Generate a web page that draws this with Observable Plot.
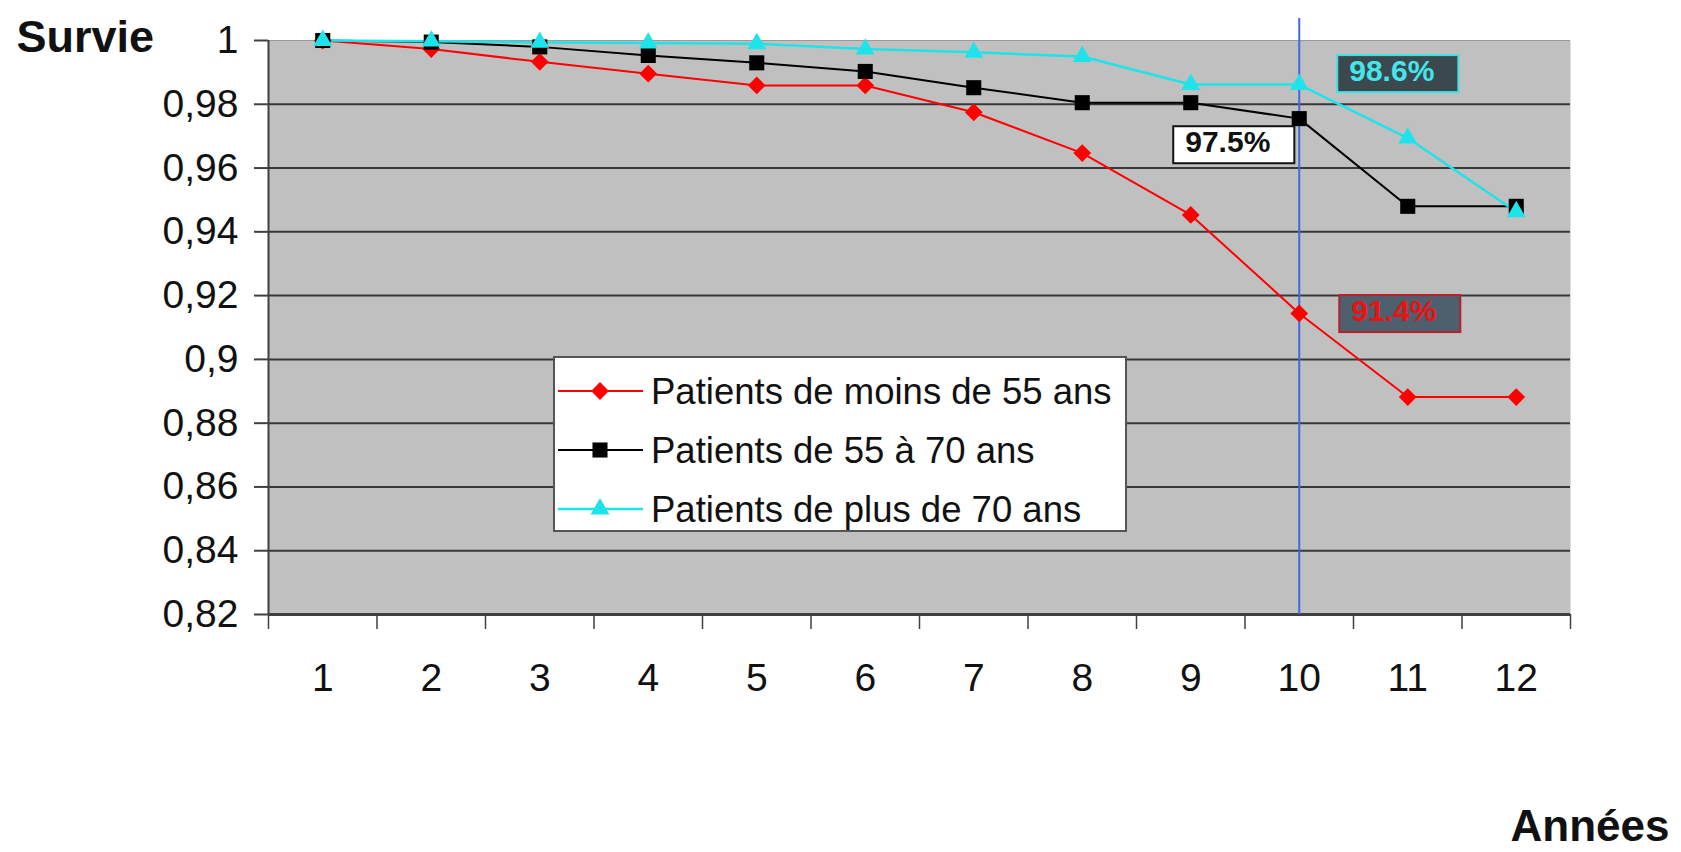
<!DOCTYPE html>
<html><head><meta charset="utf-8">
<script src="https://cdn.jsdelivr.net/npm/d3@7"></script>
<script src="https://cdn.jsdelivr.net/npm/@observablehq/plot@0.6"></script>
<style>html,body{margin:0;padding:0;background:#fff;} svg{display:block}</style>
</head><body><div id="chart"></div>
<script>
// ---- data ----
const years = [1, 2, 3, 4, 5, 6, 7, 8, 9, 10, 11, 12];
const seriesNames = ["Patients de moins de 55 ans", "Patients de 55 à 70 ans", "Patients de plus de 70 ans"];
const survieMoins55 = [1.000, 0.9973, 0.9933, 0.9896, 0.9859, 0.9859, 0.9775, 0.9647, 0.9453, 0.9144, 0.8882, 0.8882];
const survie55a70   = [1.000, 0.9995, 0.9980, 0.9953, 0.9930, 0.9903, 0.9852, 0.9805, 0.9805, 0.9755, 0.9480, 0.9480];
const survie70plus  = [1.000, 0.9998, 0.9994, 0.9992, 0.9990, 0.9973, 0.9963, 0.9950, 0.9862, 0.9862, 0.9694, 0.9463];
const yTicks = [0.82, 0.84, 0.86, 0.88, 0.9, 0.92, 0.94, 0.96, 0.98, 1];
const highlightYear = 10;
const annotationTexts = ["91.4%", "97.5%", "98.6%"];
const yTitle = "Survie";
const xTitle = "Années";

// ---- styles ----
const FONT = "'Liberation Sans', Arial, sans-serif";
const colors = ["#ff0000", "#000000", "#1fe3ea"];
const symbols = ["diamond2", "square", "triangle"];
const symbolR = [8, 8.5, 7];
const lineW = [2, 2, 2.5];

const allSeries = [survieMoins55, survie55a70, survie70plus];
const rows = allSeries.map((vals, si) => years.map((yr, i) => ({series: seriesNames[si], year: yr, value: vals[i]})));
const boundaries = years.map(y => y - 0.5).concat([years[years.length - 1] + 0.5]);
const fmt = d => String(d).replace(".", ",");
const at10 = allSeries.map((vals, si) => ({series: seriesNames[si], year: highlightYear, value: vals[years.indexOf(highlightYear)], label: annotationTexts[si]}));

const W = 1681, H = 852;
const plot = Plot.plot({
  width: W, height: H,
  marginLeft: 268, marginRight: 111, marginTop: 40, marginBottom: 238,
  style: {fontFamily: FONT, fontSize: "39px", background: "#fff", overflow: "visible"},
  x: {type: "linear", domain: [0.5, 12.5]},
  y: {domain: [0.82, 1]},
  marks: [
    Plot.frame({fill: "#c0c0c0", stroke: null}),
    Plot.gridY(yTicks.filter(t => t > 0.82 && t < 1), {stroke: "#383838", strokeOpacity: 1, strokeWidth: 2}),
    Plot.gridY([1], {stroke: "#9a9a9a", strokeOpacity: 1, strokeWidth: 1}),
    Plot.ruleY([0.82], {stroke: "#404040", strokeWidth: 3}),
    Plot.ruleX([0.5], {stroke: "#404040", strokeWidth: 2}),
    Plot.axisY({ticks: yTicks, tickFormat: fmt, tickSize: 14, tickPadding: 16, stroke: "#404040", strokeWidth: 2, fontSize: 39, fill: "#111", label: null}),
    Plot.axisX({ticks: boundaries, tickFormat: () => "", tickSize: 15, stroke: "#404040", strokeWidth: 1.5, label: null}),
    Plot.axisX({ticks: years, tickSize: 0, tickPadding: 49, fontSize: 39, fill: "#111", label: null}),
    Plot.ruleX([highlightYear], {stroke: "#4169e1", strokeWidth: 2, insetTop: -22}),
    ...rows.map((data, si) => Plot.line(data, {x: "year", y: "value", stroke: colors[si], strokeWidth: lineW[si]})),
    ...rows.map((data, si) => Plot.dot(data, {x: "year", y: "value", symbol: () => symbols[si], r: symbolR[si], fill: colors[si], stroke: null})),
    Plot.text([at10[1]], {x: "year", y: "value", text: "label", textAnchor: "start", dx: -114, dy: 24, fontSize: 30, fontWeight: "bold", fill: "#111", className: "ann-black"}),
    Plot.text([at10[2]], {x: "year", y: "value", text: "label", textAnchor: "start", dx: 50, dy: -13, fontSize: 30, fontWeight: "bold", fill: "#45e6ea", className: "ann-cyan"}),
    Plot.text([at10[0]], {x: "year", y: "value", text: "label", textAnchor: "start", dx: 52, dy: -2, fontSize: 30, fontWeight: "bold", fill: "#ee1111", className: "ann-red"}),
    Plot.text([yTitle], {frameAnchor: "top-left", text: d => d, textAnchor: "start", lineAnchor: "middle", dx: -252, dy: -3, fontSize: 45, fontWeight: "bold", fill: "#111"}),
    Plot.text([xTitle], {frameAnchor: "bottom-right", text: d => d, textAnchor: "end", lineAnchor: "middle", dx: 99, dy: 212, fontSize: 44, fontWeight: "bold", fill: "#111"})
  ]
});
document.getElementById("chart").appendChild(plot);

// boxes behind annotation labels
const svg = d3.select(plot);
const boxStyles = {"ann-black": ["#ffffff", "#111111"], "ann-cyan": ["#3b484e", "#3fe0e6"], "ann-red": ["#4e5f6e", "#b8202a"]};
for (const [cls, [fill, stroke]] of Object.entries(boxStyles)) {
  const g = plot.querySelector("g." + cls);
  const t = g.querySelector("text");
  const b = t.getBBox();
  const tr = t.getAttribute("transform");
  const rect = document.createElementNS("http://www.w3.org/2000/svg", "rect");
  rect.setAttribute("x", b.x - 12);
  rect.setAttribute("y", b.y + 1);
  rect.setAttribute("width", b.width + 36);
  rect.setAttribute("height", b.height + 4);
  rect.setAttribute("fill", fill);
  rect.setAttribute("stroke", stroke);
  rect.setAttribute("stroke-width", 2);
  if (tr) rect.setAttribute("transform", tr);
  g.insertBefore(rect, t);
}

// legend inside plot
const lg = svg.append("g").attr("font-family", FONT).attr("text-anchor", "start");
lg.append("rect").attr("x", 554).attr("y", 357).attr("width", 572).attr("height", 174)
  .attr("fill", "#fff").attr("stroke", "#555").attr("stroke-width", 2);
const symMap = {diamond2: d3.symbolDiamond2, square: d3.symbolSquare, triangle: d3.symbolTriangle};
seriesNames.forEach((name, i) => {
  const cy = 391 + i * 59;
  lg.append("line").attr("x1", 558).attr("x2", 643).attr("y1", cy).attr("y2", cy)
    .attr("stroke", colors[i]).attr("stroke-width", lineW[i]);
  lg.append("path").attr("d", d3.symbol(symMap[symbols[i]], Math.PI * symbolR[i] * symbolR[i])())
    .attr("transform", `translate(600,${cy})`).attr("fill", colors[i]);
  lg.append("text").attr("x", 651).attr("y", cy).attr("dy", "0.35em")
    .attr("font-size", 36.5).attr("fill", "#111").attr("text-anchor", "start").text(name);
});
</script></body></html>
